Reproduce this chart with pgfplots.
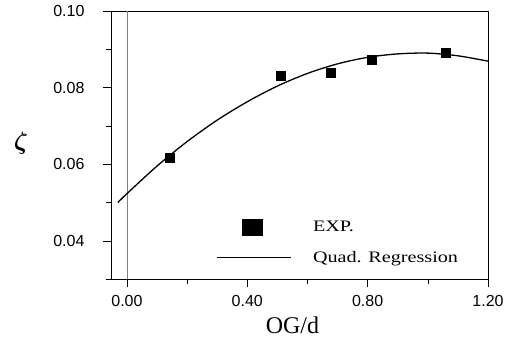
\documentclass[border=0pt]{standalone}
\usepackage{amsmath}
\usepackage{pgfplots}
\pgfplotsset{compat=1.18}
\usepackage{fontspec}
\setmainfont{Liberation Serif}
\newfontfamily\arial{Liberation Sans}
\newcommand{\wide}[1]{\scalebox{1.26}[1]{#1}}
\begin{document}
\begin{tikzpicture}[x=1pt,y=1pt]
\useasboundingbox (-111,-59) rectangle (401,279);
\begin{axis}[at={(0,0)}, anchor=south west, scale only axis,
  width=377pt, height=268pt,
  xmin=-0.053, xmax=1.2, ymin=0.030, ymax=0.10,
  xtick={0,0.4,0.8,1.2}, minor xtick={0.2,0.6,1.0},
  ytick={0.04,0.06,0.08,0.10}, minor ytick={0.03,0.05,0.07,0.09},
  tick align=outside, xtick pos=bottom, ytick pos=left,
  major tick length=8pt, minor tick length=5pt,
  tick style={black, thin},
  axis line style={thin},
  scaled ticks=false,
  /pgf/number format/fixed, /pgf/number format/fixed zerofill, /pgf/number format/precision=2,
  /pgf/number format/assume math mode=true,
  ticklabel style={font=\arial\fontsize{16}{19}\selectfont},
  xticklabel style={yshift=-5pt},
  yticklabel style={xshift=-15pt},
  xlabel={OG/d},
  xlabel style={font=\fontsize{24}{28}\selectfont, at={(rel axis cs:0.5,0)}, anchor=base, yshift=-54pt, xshift=-7pt},
  ylabel={$\boldsymbol{\zeta}$},
  ylabel style={font=\fontsize{30}{34}\selectfont, at={(rel axis cs:0,0.507)}, anchor=center, rotate=-90, xshift=-90pt},
  legend style={draw=none, fill=none, at={(axis cs:0.296,0.0458)}, anchor=north west,
    inner sep=0pt, outer sep=0pt,
    font=\fontsize{16}{19}\selectfont, row sep=14pt, cells={anchor=west},
    /tikz/every odd column/.append style={column sep=20pt}},
]
\addplot[gray, thin, forget plot] coordinates {(0,0.030) (0,0.100)};
\addplot[only marks, mark=square*, mark size=4.5pt, black,
  legend image code/.code={\fill[black] (26pt,-8pt) rectangle (46pt,8pt); \path[draw=none,fill=none] (0pt,0pt) -- (74pt,0pt);}]
  coordinates {(0.143,0.0618) (0.512,0.0831) (0.678,0.0838) (0.813,0.0873) (1.060,0.0892)};
\addlegendentry{\wide{EXP.}}
\addplot[black, line width=1.3pt, smooth,
  legend image code/.code={\draw[black, line width=1pt] (0pt,0pt) -- (74pt,0pt);}]
  coordinates {(-0.03,0.0500) (0.0,0.0523) (0.1,0.0595) (0.2,0.0659) (0.3,0.0715)
  (0.4,0.0763) (0.5,0.0804) (0.6,0.0837) (0.7,0.0862) (0.8,0.0879) (0.9,0.0888)
  (1.0,0.0890) (1.1,0.0883) (1.2,0.0869)};
\addlegendentry{\wide{Quad. Regression}}
\end{axis}
\end{tikzpicture}
\end{document}
